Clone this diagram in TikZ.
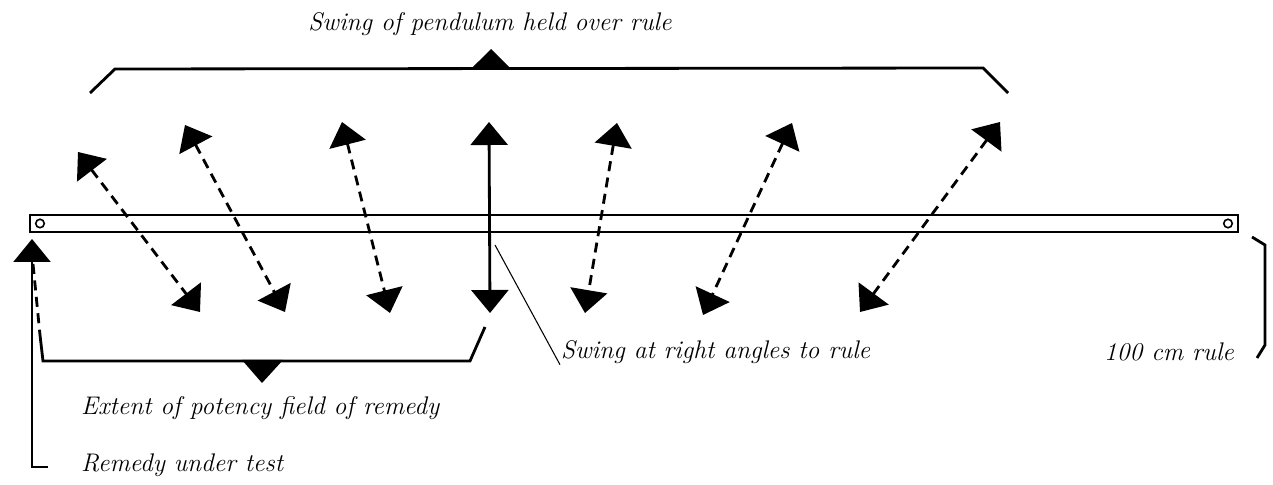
\documentclass[tikz,border=0pt]{standalone}
\usetikzlibrary{arrows.meta}

\begin{document}
\begin{tikzpicture}[line width=1.3pt,
    >={Triangle[width=0.74cm,length=0.46cm]},
    swing/.style={<->, line width=1.6pt, dash pattern=on 0.2cm off 0.13cm},
    lbl/.style={font=\itshape\fontsize{14.5}{17}\selectfont, inner sep=0pt}]
  \useasboundingbox (0,0) rectangle (25.46,9.7);

  % the 100 cm rule
  \coordinate (RL) at (0.6, 5.06);
  \coordinate (RR) at (24.76, 5.40);
  \draw (RL) rectangle (RR);
  \draw[line width=0.9pt] (0.8, 5.23) circle (0.085);
  \draw[line width=0.9pt] (24.56, 5.23) circle (0.085);

  % swings of the pendulum over the rule
  \foreach \i/\xt/\yt/\xb/\yb in {1/1.56/6.66/4.0/3.46, 2/3.7/7.2/5.7/3.46,
      3/6.84/7.26/7.8/3.44, 5/12.34/7.24/11.7/3.44, 6/15.84/7.24/14.06/3.4,
      7/20.0/7.26/17.2/3.46} {
    \coordinate (T\i) at (\xt, \yt);
    \coordinate (B\i) at (\xb, \yb);
    \draw[swing] (T\i) -- (B\i);
  }
  % swing at right angles to the rule
  \coordinate (T4) at (9.78, 7.26);
  \coordinate (B4) at (9.8, 3.44);
  \draw[<->, line width=1.6pt] (T4) -- (B4);

  % top bracket
  \coordinate (P1) at (1.8, 7.84);
  \coordinate (P2) at (2.3, 8.32);
  \coordinate (P3) at (19.66, 8.34);
  \coordinate (P4) at (20.16, 7.84);
  \draw[line width=1.6pt] (P1) -- (P2) -- (P3) -- (P4);
  \fill (9.4, 8.3) -- (9.82, 8.72) -- (10.24, 8.3) -- cycle;
  \node[lbl] (top) at (9.8, 9.22) {Swing of pendulum held over rule};

  % bracket of the potency field
  \coordinate (E0) at (0.66, 4.42);
  \coordinate (E1) at (0.8, 3.0);
  \coordinate (E2) at (0.86, 2.48);
  \coordinate (E3) at (9.4, 2.48);
  \coordinate (E4) at (9.7, 3.16);
  \draw[line width=1.6pt, dash pattern=on 0.2cm off 0.13cm] (E0) -- (E1);
  \draw[line width=1.6pt] (E1) -- (E2) -- (E3) -- (E4);
  \fill (4.84, 2.5) -- (5.24, 2.04) -- (5.66, 2.5) -- cycle;
  \node[lbl, anchor=west] (ext) at (1.6, 1.54) {Extent of potency field of remedy};

  % remedy under test
  \coordinate (M0) at (0.96, 0.36);
  \coordinate (M1) at (0.64, 0.36);
  \coordinate (M2) at (0.64, 4.92);
  \draw[->, line width=1.3pt] (M0) -- (M1) -- (M2);
  \node[lbl, anchor=west] (rem) at (1.6, 0.4) {Remedy under test};

  % leader to the right angle swing
  \node[lbl, anchor=west] (rt) at (11.2, 2.66) {Swing at right angles to rule};
  \coordinate (L0) at (9.9, 4.8);
  \draw[line width=0.6pt] (L0) -- (rt.south west);

  % brace of the rule length
  \coordinate (K1) at (25.04, 4.96);
  \coordinate (K2) at (25.3, 4.8);
  \coordinate (K3) at (25.3, 2.8);
  \coordinate (K4) at (25.14, 2.54);
  \draw[line width=1.6pt] (K1) -- (K2) -- (K3) -- (K4);
  \node[lbl, anchor=east] (len) at (24.7, 2.66) {100 cm rule};
\end{tikzpicture}
\end{document}
